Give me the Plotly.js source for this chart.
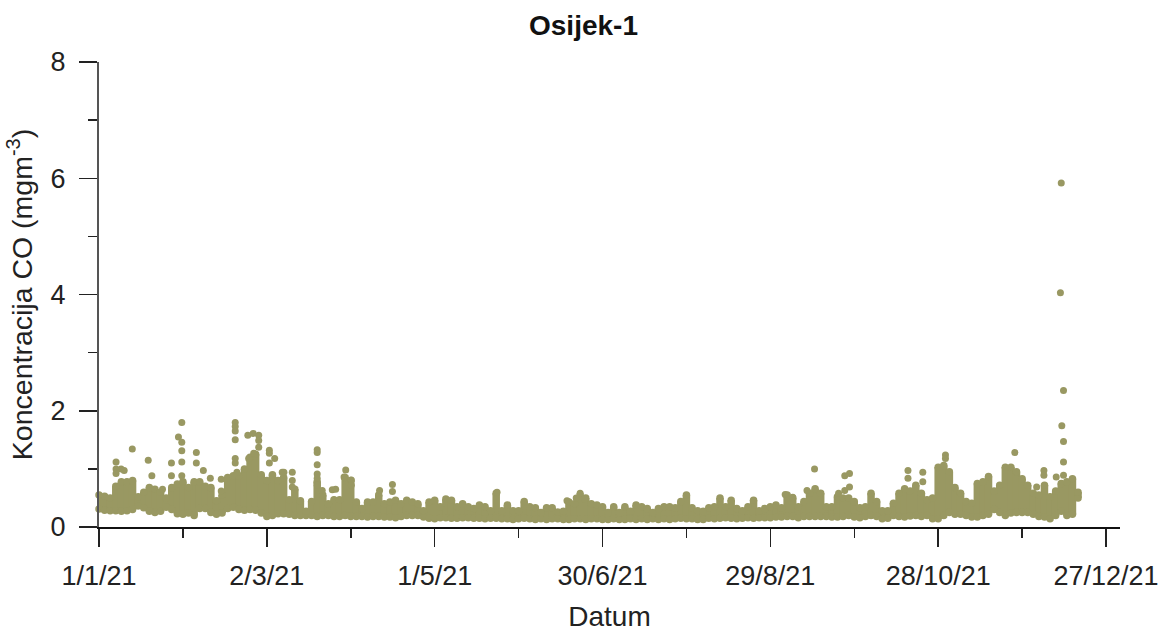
<!DOCTYPE html>
<html>
<head>
<meta charset="utf-8">
<script src="https://cdn.plot.ly/plotly-3.0.1.min.js"></script>
<style>html,body{margin:0;padding:0;background:#fff}#chart{width:1167px;height:633px}</style>
</head>
<body>
<div id="chart"></div>
<script>
// Day of the year 2021 (0 = 1/1/21)
var columnDays = [-1.5,0,2,4,6,8,10,12,14,16,18,20,22,24,26,28,30,32,34,36,38,40,42,44,46,48,50,52,54,56,58,60,62,64,66,
68,70,72,74,76,78,80,82,84,86,88,90,92,94,96,98,100,102,104,106,108,110,112,114,116,118,120,122,124,126,128,130,132,134,
136,138,140,142,144,146,148,150,152,154,156,158,160,162,164,166,168,170,172,174,176,178,180,182,184,186,188,190,192,194,196,198,200,202,204,
206,208,210,212,214,216,218,220,222,224,226,228,230,232,234,236,238,240,242,244,246,248,250,252,254,256,258,260,262,264,266,268,270,272,274,
276,278,280,282,284,286,288,290,292,294,296,298,300,302,304,306,308,310,312,314,316,318,320,322,324,326,328,330,332,334,336,338,340,342,344,346,348,350];

// Upper edge of the dense band of readings, mg/m3
var bandHigh = [.48,.55,.53,.5,.70,.78,.78,.8,.52,.6,.68,.65,.6,.5,.68,.74,.78,.68,.78,.78,.7,.68,.45,.55,.85,.88,.88,1.0,1.2,1.25,.9,.8,.9,.8,.85,
.47,.65,.45,.27,.44,.78,.55,.4,.47,.47,.85,.8,.43,.32,.43,.43,.55,.4,.43,.46,.4,.46,.43,.4,.28,.43,.46,.35,.48,.46,.35,.4,.35,.32,
.38,.35,.28,.58,.28,.38,.28,.28,.44,.35,.33,.25,.33,.33,.26,.27,.43,.4,.55,.5,.4,.38,.35,.25,.35,.25,.35,.27,.38,.35,.32,.25,.32,.35,.35,
.33,.44,.55,.33,.28,.27,.33,.35,.5,.35,.46,.32,.28,.35,.46,.28,.32,.35,.38,.33,.55,.5,.35,.44,.58,.66,.58,.35,.35,.52,.5,.5,.44,.33,.35,
.58,.44,.28,.28,.41,.58,.66,.62,.72,.58,.47,.5,1.03,1.06,.95,.68,.58,.44,.41,.75,.78,.87,.62,.72,1.03,1.03,.95,.83,.72,.58,.55,.72,.52,.62,.75,.78,.83,.6];

// Lower edge of the dense band of readings, mg/m3
var bandLow = [.36,.31,.29,.28,.28,.27,.28,.3,.36,.33,.27,.25,.27,.34,.3,.23,.22,.24,.2,.32,.32,.25,.22,.24,.32,.34,.3,.29,.3,.29,.24,.18,.2,.23,.23,
.22,.2,.2,.2,.2,.18,.2,.2,.18,.18,.2,.18,.18,.18,.17,.18,.18,.17,.17,.16,.18,.2,.2,.2,.17,.15,.14,.16,.16,.15,.15,.16,.16,.15,
.15,.14,.15,.15,.14,.14,.13,.14,.15,.14,.13,.14,.13,.14,.14,.13,.13,.14,.14,.13,.14,.14,.13,.13,.14,.13,.13,.14,.13,.14,.13,.14,.13,.14,.13,
.14,.15,.14,.14,.13,.13,.15,.14,.15,.16,.15,.14,.15,.16,.15,.16,.16,.16,.17,.17,.18,.18,.16,.18,.18,.18,.18,.18,.17,.17,.18,.2,.17,.16,.18,
.2,.18,.14,.15,.2,.18,.17,.19,.2,.18,.2,.14,.14,.2,.25,.22,.22,.2,.17,.17,.2,.22,.3,.25,.2,.24,.25,.25,.25,.22,.18,.17,.14,.2,.27,.2,.22,.5];

// Isolated readings above the band
var spikeDays = [29.6,28.4,29.6,29.6,29.6,25.9,25.9,29.6,34.8,34.8,37.3,39.8,43.7,43.7,22.7,11.9,17.6,18.9,6.1,6.1,6.1,7.9,9,
48.7,48.7,48.7,48.7,48.7,48.7,49.3,53.2,55.1,57.1,57.1,57.1,55.3,53.5,60.9,60.9,62.8,60.9,65.5,
66.1,69.1,69.1,69.1,78,78,78,78,78,78,79.8,83.4,84.6,88.2,87.6,90.2,90.2,100.3,104.9,104.9,
142.3,167.3,172,173.6,170.6,
255.8,266.6,268.3,268.3,266.6,264.4,253.1,245.3,248,
289.2,289.2,294.5,294.5,302.6,302.6,327.4,337.8,337.8,335.2,342.2,344.8,344.8,344.8,344.2,344.8,343.7,344];
var spikeValues = [1.80,1.55,1.46,1.31,1.12,1.10,.88,.88,1.28,1.10,.97,.84,.82,.62,.65,1.34,1.15,.88,1.12,1.0,.92,1.0,.97,
1.80,1.73,1.65,1.50,1.18,1.10,.94,1.58,1.61,1.58,1.49,1.37,1.27,1.18,1.32,1.27,1.18,1.1,.94,
.94,.94,.80,.69,1.33,1.28,1.07,.91,.84,.72,.63,.64,.65,.98,.86,.81,.72,.63,.73,.61,
.6,.45,.58,.48,.5,
1.0,.88,.92,.69,.63,.58,.63,.56,.51,
.97,.84,.94,.78,1.24,1.18,1.28,.97,.89,.69,.86,.89,1.12,1.47,1.74,2.35,4.03,5.92];

var xTickDays = [0,60,120,180,240,300,360];
var xTickLabels = ['1/1/21','2/3/21','1/5/21','30/6/21','29/8/21','28/10/21','27/12/21'];
var yTicks = [0,2,4,6,8];

var olive = '#999862';
var upBars = bandHigh.map(function(h,i){return h-bandLow[i];});

var traces = [
  {type:'scatter',mode:'markers',x:columnDays,y:bandLow,cliponaxis:false,hoverinfo:'skip',
   marker:{color:olive,size:7.5},
   error_y:{type:'data',symmetric:false,array:upBars,arrayminus:upBars.map(function(){return 0;}),color:olive,thickness:7.5,width:0}},
  {type:'scatter',mode:'markers',x:columnDays,y:bandHigh,cliponaxis:false,marker:{color:olive,size:7.5}},
  {type:'scatter',mode:'markers',x:spikeDays,y:spikeValues,cliponaxis:false,marker:{color:olive,size:7}}
];

var ff = '"Liberation Sans", Arial, sans-serif', ink = '#222';
var layout = {
  width:1167,height:633,showlegend:false,
  paper_bgcolor:'#fff',plot_bgcolor:'#fff',
  margin:{l:99,r:47,t:62,b:106,pad:0},
  title:{text:'<b>Osijek-1</b>',x:0.5,xref:'container',xanchor:'center',y:0.96,yanchor:'middle',
         font:{family:ff,size:28,color:'#111'}},
  xaxis:{range:[0,365],tickmode:'array',tickvals:xTickDays,ticktext:xTickLabels,
    ticks:'outside',ticklen:18,tickwidth:1.5,tickcolor:'#222',ticklabelstandoff:6,
    showline:true,linecolor:'#111',linewidth:1.5,showgrid:false,zeroline:false,
    tickfont:{family:ff,size:27,color:ink},
    minor:{ticks:'outside',ticklen:9,tickwidth:1.5,tickcolor:'#222',dtick:30,tick0:0,showgrid:false},
    title:{text:'Datum',font:{family:ff,size:28,color:ink},standoff:16}},
  yaxis:{range:[0,8],tickmode:'array',tickvals:yTicks,ticktext:yTicks.map(String),
    ticks:'outside',ticklen:18,tickwidth:1.5,tickcolor:'#222',ticklabelstandoff:8,
    showline:true,linecolor:'#555',linewidth:2,showgrid:false,zeroline:false,
    tickfont:{family:ff,size:27,color:ink},
    minor:{ticks:'outside',ticklen:9,tickwidth:1.5,tickcolor:'#222',dtick:1,tick0:0,showgrid:false},
    title:{text:'Koncentracija CO (mgm<sup>-3</sup>)',font:{family:ff,size:28.5,color:ink},standoff:10}}
};
Plotly.newPlot('chart',traces,layout,{displayModeBar:false,staticPlot:true});
</script>
</body>
</html>
